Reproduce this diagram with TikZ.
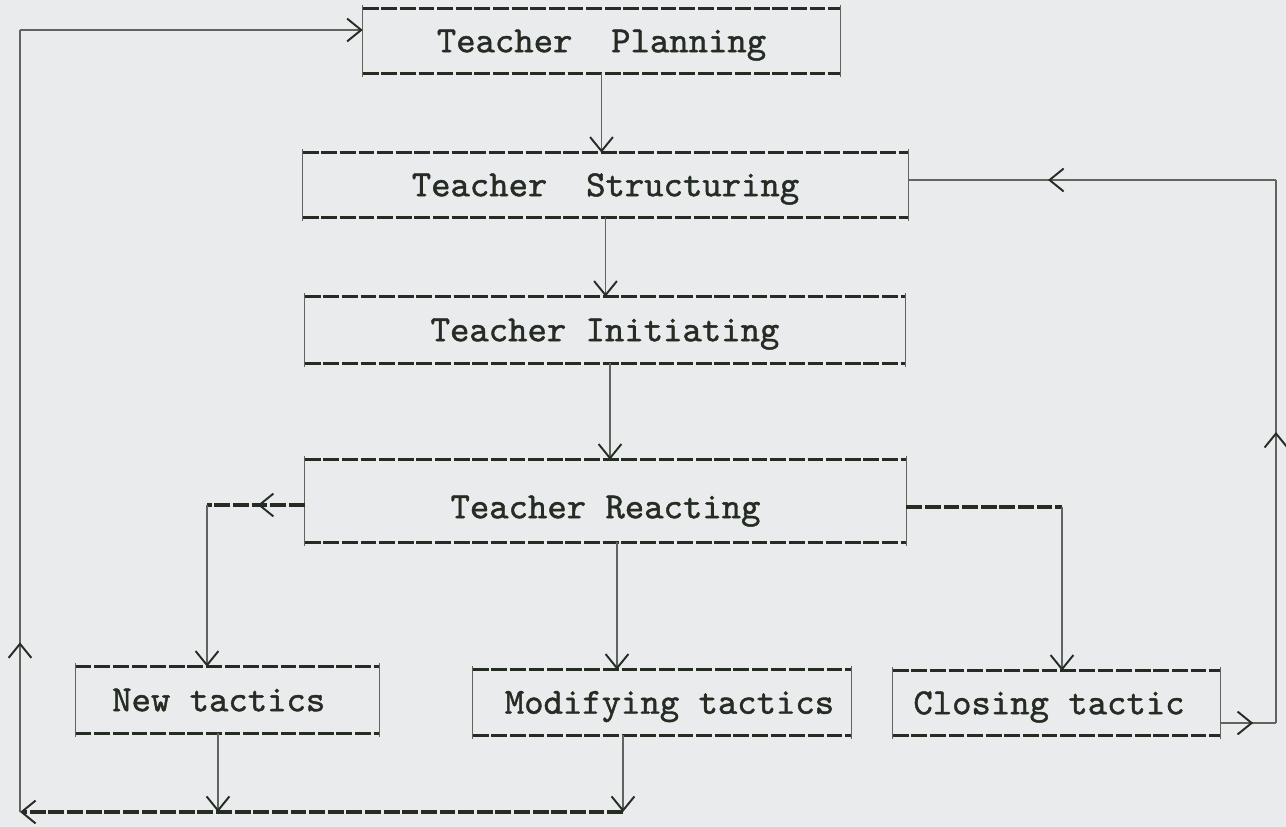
\documentclass[tikz,border=0pt]{standalone}
\usepackage{fontspec}
\newfontfamily\typewriter{lmmono10-regular.otf}[FakeBold=1.2]
\usetikzlibrary{arrows.meta,decorations.markings}
\definecolor{paper}{RGB}{234,235,237}
\definecolor{ink}{RGB}{36,44,36}
\definecolor{thinink}{RGB}{95,100,95}
\begin{document}
\begin{tikzpicture}[x=0.02cm,y=-0.02cm,
  lbl/.style={font=\fontsize{21}{25}\selectfont\typewriter, text=ink, inner sep=0pt, text height=12.8pt, text depth=0pt},
  typed/.style={draw=ink, line width=2pt, dash pattern=on 9pt off 1.6pt},
  side/.style={draw=thinink, line width=0.8pt},
  conn/.style={draw=thinink, line width=0.75pt},
  tip/.style={-{Straight Barb[length=8pt,width=13pt,line width=1.1pt,color=ink]}},
  midarrow/.style={postaction={decorate}, decoration={markings, mark=at position #1 with {\arrow{Straight Barb[length=8pt,width=13pt,line width=1.1pt,color=ink]}}}}
]
\fill[paper] (0,0) rectangle (1286,827);
\useasboundingbox (0,0) rectangle (1286,827);

% boxes
\node[lbl, minimum width=9.54cm, minimum height=1.28cm] (plan) at (601.5,41) {Teacher\ \ Planning};
\node[lbl, minimum width=12.1cm, minimum height=1.28cm] (struct) at (605.5,185) {Teacher\ \ Structuring};
\node[lbl, minimum width=12.0cm, minimum height=1.32cm] (init) at (605,330) {Teacher Initiating};
\node[lbl, minimum width=12.02cm, minimum height=1.64cm, text height=12.8pt+0.24cm] (react) at (605.5,501) {Teacher Reacting};
\node[lbl, minimum width=6.06cm, minimum height=1.32cm] (new) at (227.5,700) {New tactics\hspace*{0.35cm}};
\node[lbl, minimum width=7.56cm, minimum height=1.3cm] (mod) at (662,702.5) {\hspace*{0.3cm}Modifying tactics};
\node[lbl, minimum width=6.54cm, minimum height=1.28cm] (close) at (1056.5,703) {Closing tactic\hspace*{0.3cm}};

\foreach \n in {plan,struct,init,react,new,mod,close}{
  \draw[side] ([yshift=2pt]\n.north west) -- ([yshift=-2pt]\n.south west);
  \draw[side] ([yshift=2pt]\n.north east) -- ([yshift=-2pt]\n.south east);
  \draw[typed] (\n.north west) -- (\n.north east);
  \draw[typed] (\n.south west) -- (\n.south east);
}

% bend points
\coordinate (lb) at (207,505);
\coordinate (rb) at (1062,507);
\coordinate (rc) at (1276,723);
\coordinate (rt) at (1276,180);
\coordinate (bot) at (20,812);
\coordinate (top) at (20,30);

% main chain
\draw[conn,tip] (plan.south) -- (plan.south |- struct.north);
\draw[conn,tip] (struct.south) -- (struct.south |- init.north);
\draw[conn,tip] ([xshift=0.1cm]init.south) -- ([xshift=0.1cm]init.south |- react.north);
\draw[conn,tip] ([xshift=0.23cm]react.south) -- ([xshift=0.23cm]react.south |- mod.north);

% left branch
\draw[typed,midarrow=0.48] (react.west |- lb) -- (lb);
\draw[conn,tip] (lb) -- (lb |- new.north);

% right branch
\draw[typed] (react.east |- rb) -- (rb);
\draw[conn,tip] (rb) -- (rb |- close.north);

% closing loop back to structuring
\draw[conn,midarrow=0.59] (close.east |- rc) -- (rc);
\draw[conn,midarrow=0.536] (rc) -- (rt);
\draw[conn,midarrow=0.62] (rt) -- (struct.east |- rt);

% bottom return loop to planning
\draw[conn,tip] ([xshift=-0.19cm]new.south) -- ([xshift=-0.19cm]new.south |- bot);
\draw[conn,tip] ([xshift=-0.78cm]mod.south) -- ([xshift=-0.78cm]mod.south |- bot);
\draw[typed,tip] ([xshift=-0.78cm]mod.south |- bot) -- (bot);
\draw[conn,midarrow=0.217] (bot) -- (top);
\draw[conn,tip] (top) -- (plan.west |- top);
\end{tikzpicture}
\end{document}
